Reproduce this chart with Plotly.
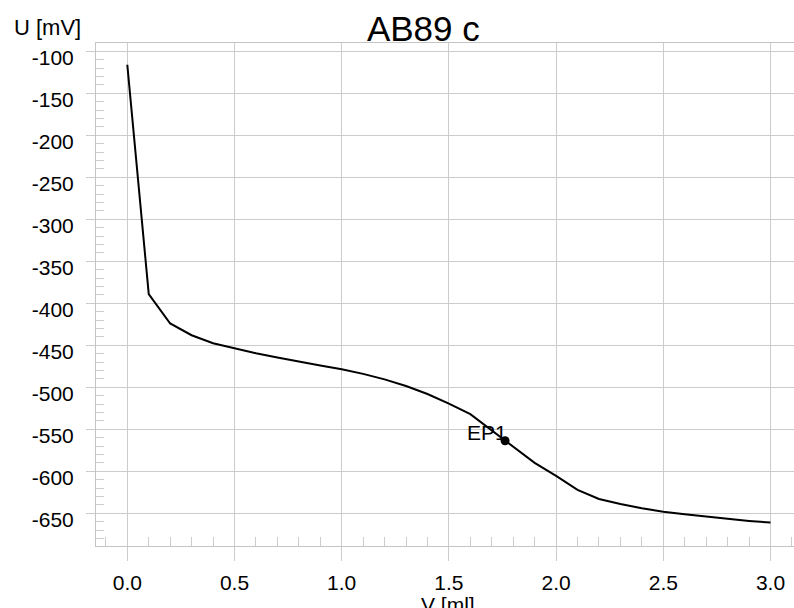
import plotly.graph_objects as go

# ---- data ----
volume_ml = [0.0, 0.1, 0.2, 0.3, 0.4, 0.5, 0.6, 0.7, 0.8, 0.9, 1.0,
             1.1, 1.2, 1.3, 1.4, 1.5, 1.6, 1.7, 1.8, 1.9, 2.0,
             2.1, 2.2, 2.3, 2.4, 2.5, 2.6, 2.7, 2.8, 2.9, 3.0]
potential_mv = [-116, -389, -424, -438, -447.5, -453.5, -459.5, -464.5, -469.5, -474, -478.5,
                -484, -490.5, -498.5, -508, -519.5, -532, -551, -571, -590, -605.5,
                -622, -633, -639, -644, -648, -651, -654, -656.5, -659, -661]
ep_volume = [1.762]
ep_potential = [-563.6]
ep_labels = ["EP1"]

x_tick_vals = [0.0, 0.5, 1.0, 1.5, 2.0, 2.5, 3.0]
x_tick_text = ["0.0", "0.5", "1.0", "1.5", "2.0", "2.5", "3.0"]
y_tick_vals = [-100, -150, -200, -250, -300, -350, -400, -450, -500, -550, -600, -650]
y_tick_text = ["-100", "-150", "-200", "-250", "-300", "-350", "-400", "-450",
               "-500", "-550", "-600", "-650"]

title_text = "AB89 c"
x_title = "V [ml]"
y_title = "U [mV]"

# ---- style ----
FONT = "Liberation Sans, Arial, sans-serif"
GRID = "#cccccc"
LINE = "#c4c4c4"
X_RANGE = [-0.146, 3.1096]
Y_RANGE = [-688.9, -90.12]
LABEL_SHIFT = 7.0  # y tick labels sit slightly below their grid lines

fig = go.Figure()
fig.add_trace(go.Scatter(x=volume_ml, y=potential_mv, mode="lines",
                         line=dict(color="black", width=2), hoverinfo="skip",
                         showlegend=False))
fig.add_trace(go.Scatter(x=ep_volume, y=ep_potential, mode="markers",
                         marker=dict(color="black", size=9), showlegend=False))

for xv, yv, t in zip(ep_volume, ep_potential, ep_labels):
    fig.add_annotation(x=xv, y=yv, text=t, showarrow=False, xanchor="right",
                       yanchor="middle", xshift=4, yshift=8,
                       font=dict(family=FONT, size=21, color="black"))

fig.add_annotation(xref="paper", yref="paper", x=-0.121, y=1.0308, text=y_title,
                   showarrow=False, xanchor="left", yanchor="middle",
                   font=dict(family=FONT, size=22, color="black"))
fig.add_annotation(xref="paper", yref="paper", x=0.504, y=-0.1163, text=x_title,
                   showarrow=False, xanchor="center", yanchor="middle",
                   font=dict(family=FONT, size=21, color="black"))

fig.update_layout(
    width=794, height=608,
    margin=dict(l=96, r=0, t=43, b=62, autoexpand=False),
    paper_bgcolor="white", plot_bgcolor="white",
    title=dict(text=title_text, x=0.5332, xanchor="center", xref="container",
               y=0.952, yanchor="middle", yref="container",
               font=dict(family=FONT, size=35, color="black")),
    xaxis=dict(range=X_RANGE, tickvals=x_tick_vals, ticktext=x_tick_text,
               automargin=False,
               showgrid=True, gridcolor=GRID, gridwidth=1, zeroline=False,
               showline=True, linecolor=LINE, linewidth=1, mirror=True,
               ticks="outside", ticklen=14, tickcolor=GRID, tickwidth=1,
               ticklabelstandoff=4,
               tickfont=dict(family=FONT, size=21, color="black"),
               minor=dict(dtick=0.1, tick0=0, ticks="inside", ticklen=9,
                          tickcolor=GRID, tickwidth=1, showgrid=False)),
    yaxis=dict(range=Y_RANGE, tickvals=y_tick_vals, showticklabels=False,
               automargin=False,
               showgrid=True, gridcolor=GRID, gridwidth=1, zeroline=False,
               showline=True, linecolor=LINE, linewidth=1, mirror=False,
               ticks="outside", ticklen=9, tickcolor=GRID, tickwidth=1,
               minor=dict(dtick=10, tick0=0, ticks="inside", ticklen=8,
                          tickcolor=GRID, tickwidth=1, showgrid=False)),
    yaxis2=dict(range=[Y_RANGE[0] + LABEL_SHIFT, Y_RANGE[1] + LABEL_SHIFT],
                overlaying="y", side="left", anchor="x", automargin=False,
                tickvals=y_tick_vals, ticktext=y_tick_text,
                showgrid=False, zeroline=False, showline=False,
                ticks="outside", ticklen=9, tickcolor="rgba(0,0,0,0)",
                ticklabelstandoff=8,
                tickfont=dict(family=FONT, size=21, color="black")),
)
# invisible trace so yaxis2 is drawn
fig.add_trace(go.Scatter(x=[None], y=[None], yaxis="y2", showlegend=False))

fig.write_html("out.html",
               config={"displayModeBar": False},
               post_script="document.body.style.margin='0';"
                           "document.body.style.overflow='hidden';")
